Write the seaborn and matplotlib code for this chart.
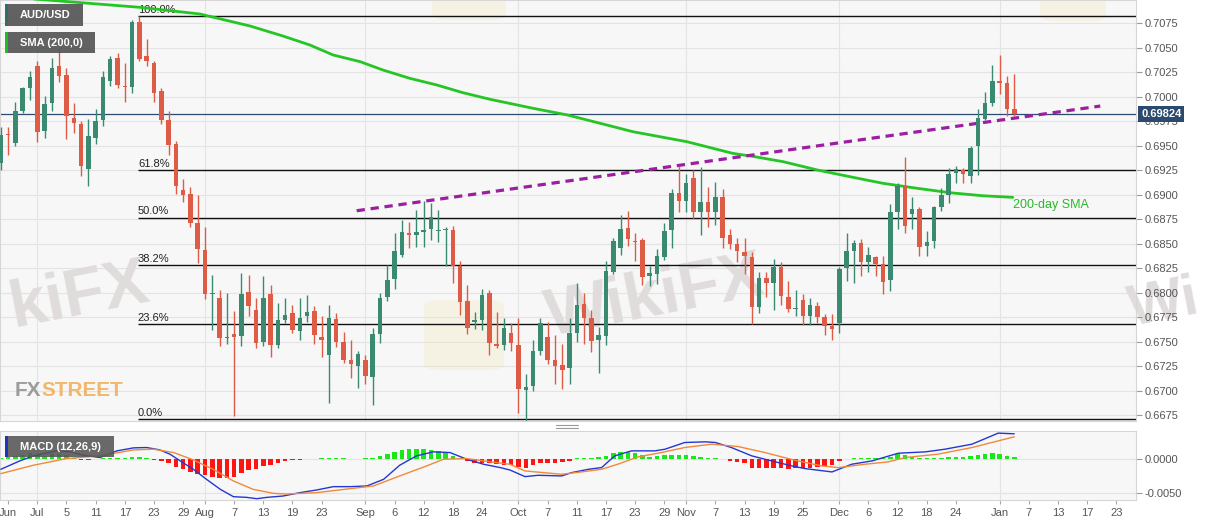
import numpy as np
import pandas as pd
import matplotlib
matplotlib.use("Agg")
import matplotlib.pyplot as plt
import matplotlib.transforms as mtransforms
from matplotlib.patches import Rectangle, FancyBboxPatch
from matplotlib.lines import Line2D
import seaborn as sns

# ---------------- data ----------------
start_date = "2019-06-24"
end_date = "2020-01-03"
axis_end_date = "2020-01-31"

open_ = [0.6932, 0.6962, 0.6953, 0.6985, 0.7009, 0.7031, 0.6965, 0.6994, 0.7031, 0.7022,
         0.6978, 0.6972, 0.6926, 0.6958, 0.6976, 0.7016, 0.7040, 0.7011, 0.7010, 0.7076,
         0.7042, 0.7034, 0.7006, 0.6976, 0.6952, 0.6905, 0.6901, 0.6871, 0.6844, 0.6799,
         0.6794, 0.6754, 0.6758, 0.6756, 0.6801, 0.6782, 0.6750, 0.6799, 0.6747, 0.6772,
         0.6779, 0.6761, 0.6776, 0.6781, 0.6755, 0.6736, 0.6773, 0.6750, 0.6731, 0.6725,
         0.6731, 0.6714, 0.6758, 0.6796, 0.6814, 0.6838, 0.6861, 0.6859, 0.6862, 0.6865,
         0.6863, 0.6864, 0.6864, 0.6827, 0.6791, 0.6770, 0.6772, 0.6800, 0.6748, 0.6747,
         0.6759, 0.6746, 0.6701, 0.6705, 0.6740, 0.6755, 0.6731, 0.6726, 0.6723, 0.6759,
         0.6788, 0.6774, 0.6752, 0.6756, 0.6821, 0.6846, 0.6866, 0.6853, 0.6854, 0.6817,
         0.6819, 0.6836, 0.6864, 0.6902, 0.6894, 0.6917, 0.6882, 0.6893, 0.6882, 0.6898,
         0.6859, 0.6850, 0.6841, 0.6836, 0.6785, 0.6815, 0.6810, 0.6826, 0.6796, 0.6783,
         0.6792, 0.6776, 0.6786, 0.6775, 0.6766, 0.6769, 0.6825, 0.6843, 0.6851, 0.6831,
         0.6836, 0.6829, 0.6813, 0.6882, 0.6909, 0.6880, 0.6885, 0.6848, 0.6853, 0.6887,
         0.6900, 0.6922, 0.6925, 0.6919, 0.6950, 0.6977, 0.6994, 0.7016, 0.7014, 0.6987]
high = [0.6969, 0.6969, 0.6995, 0.7010, 0.7026, 0.7036, 0.7001, 0.7040, 0.7049, 0.7029,
        0.6994, 0.6975, 0.6977, 0.6988, 0.7026, 0.7042, 0.7045, 0.7034, 0.7078, 0.7082,
        0.7059, 0.7037, 0.7009, 0.6985, 0.6955, 0.6916, 0.6908, 0.6900, 0.6867, 0.6818,
        0.6803, 0.6800, 0.6781, 0.6820, 0.6818, 0.6794, 0.6817, 0.6808, 0.6789, 0.6794,
        0.6787, 0.6794, 0.6798, 0.6786, 0.6776, 0.6787, 0.6779, 0.6760, 0.6752, 0.6740,
        0.6736, 0.6764, 0.6800, 0.6828, 0.6861, 0.6874, 0.6872, 0.6884, 0.6894, 0.6891,
        0.6884, 0.6867, 0.6868, 0.6832, 0.6808, 0.6780, 0.6804, 0.6803, 0.6780, 0.6774,
        0.6769, 0.6774, 0.6717, 0.6752, 0.6774, 0.6770, 0.6757, 0.6748, 0.6774, 0.6810,
        0.6800, 0.6782, 0.6765, 0.6832, 0.6856, 0.6879, 0.6883, 0.6861, 0.6856, 0.6827,
        0.6845, 0.6871, 0.6906, 0.6929, 0.6921, 0.6925, 0.6928, 0.6908, 0.6913, 0.6906,
        0.6865, 0.6856, 0.6856, 0.6841, 0.6821, 0.6821, 0.6834, 0.6831, 0.6812, 0.6803,
        0.6799, 0.6794, 0.6790, 0.6778, 0.6778, 0.6826, 0.6861, 0.6854, 0.6855, 0.6847,
        0.6837, 0.6837, 0.6890, 0.6912, 0.6938, 0.6898, 0.6887, 0.6863, 0.6888, 0.6907,
        0.6927, 0.6929, 0.6927, 0.6950, 0.6987, 0.7005, 0.7032, 0.7043, 0.7021, 0.7023]
low = [0.6925, 0.6941, 0.6950, 0.6983, 0.6997, 0.6954, 0.6958, 0.6985, 0.7015, 0.6957,
       0.6963, 0.6919, 0.6909, 0.6952, 0.6970, 0.7011, 0.7009, 0.6995, 0.7004, 0.7037,
       0.7031, 0.6995, 0.6972, 0.6941, 0.6901, 0.6893, 0.6867, 0.6830, 0.6793, 0.6762,
       0.6745, 0.6748, 0.6674, 0.6745, 0.6776, 0.6743, 0.6745, 0.6734, 0.6743, 0.6769,
       0.6759, 0.6752, 0.6770, 0.6748, 0.6734, 0.6687, 0.6744, 0.6728, 0.6713, 0.6703,
       0.6707, 0.6685, 0.6749, 0.6791, 0.6804, 0.6836, 0.6846, 0.6847, 0.6847, 0.6854,
       0.6852, 0.6827, 0.6810, 0.6777, 0.6758, 0.6763, 0.6762, 0.6736, 0.6743, 0.6741,
       0.6740, 0.6677, 0.6669, 0.6700, 0.6736, 0.6727, 0.6707, 0.6702, 0.6707, 0.6750,
       0.6748, 0.6739, 0.6718, 0.6747, 0.6819, 0.6838, 0.6848, 0.6832, 0.6808, 0.6807,
       0.6809, 0.6833, 0.6846, 0.6882, 0.6882, 0.6875, 0.6859, 0.6867, 0.6869, 0.6846,
       0.6845, 0.6831, 0.6819, 0.6768, 0.6779, 0.6796, 0.6782, 0.6787, 0.6780, 0.6776,
       0.6767, 0.6767, 0.6769, 0.6757, 0.6752, 0.6759, 0.6812, 0.6810, 0.6817, 0.6821,
       0.6817, 0.6799, 0.6802, 0.6865, 0.6861, 0.6865, 0.6837, 0.6837, 0.6846, 0.6883,
       0.6891, 0.6912, 0.6912, 0.6912, 0.6920, 0.6976, 0.6991, 0.7003, 0.6980, 0.6980]
close = [0.6961, 0.6961, 0.6985, 0.7009, 0.7020, 0.6964, 0.6993, 0.7029, 0.7021, 0.6980,
         0.6973, 0.6929, 0.6960, 0.6975, 0.7020, 0.7039, 0.7012, 0.7010, 0.7076, 0.7039,
         0.7036, 0.7004, 0.6976, 0.6951, 0.6909, 0.6900, 0.6871, 0.6845, 0.6799, 0.6800,
         0.6754, 0.6755, 0.6755, 0.6799, 0.6786, 0.6749, 0.6795, 0.6746, 0.6772, 0.6777,
         0.6762, 0.6774, 0.6780, 0.6757, 0.6752, 0.6774, 0.6750, 0.6731, 0.6727, 0.6737,
         0.6715, 0.6758, 0.6795, 0.6813, 0.6842, 0.6862, 0.6859, 0.6862, 0.6864, 0.6877,
         0.6864, 0.6865, 0.6827, 0.6790, 0.6764, 0.6772, 0.6798, 0.6749, 0.6745, 0.6764,
         0.6749, 0.6702, 0.6704, 0.6740, 0.6769, 0.6731, 0.6725, 0.6721, 0.6759, 0.6787,
         0.6774, 0.6751, 0.6757, 0.6822, 0.6853, 0.6865, 0.6855, 0.6852, 0.6816, 0.6820,
         0.6837, 0.6863, 0.6902, 0.6894, 0.6912, 0.6882, 0.6893, 0.6882, 0.6898, 0.6856,
         0.6850, 0.6842, 0.6837, 0.6785, 0.6815, 0.6810, 0.6826, 0.6797, 0.6783, 0.6784,
         0.6776, 0.6787, 0.6775, 0.6766, 0.6763, 0.6824, 0.6843, 0.6851, 0.6831, 0.6838,
         0.6829, 0.6811, 0.6882, 0.6909, 0.6868, 0.6885, 0.6847, 0.6852, 0.6887, 0.6900,
         0.6921, 0.6926, 0.6921, 0.6948, 0.6978, 0.6994, 0.7016, 0.7014, 0.6987, 0.69824]

# 200-day SMA, read at sampled bars (bar index, value)
sma_idx = [0, 6.3, 19.1, 27.3, 34.2, 38.7, 42.4, 45.6, 49.3, 52.4, 56.1, 59.8, 63.4, 67.1,
           73, 77.7, 82.2, 86.7, 90.4, 94.1, 97.7, 100.4, 103.4, 107.3, 112, 116.5, 121,
           125.7, 130.2, 134.7, 138.8]
sma_val = [0.71025, 0.70988, 0.70913, 0.70845, 0.70722, 0.7062, 0.70528, 0.70426, 0.70358,
           0.70273, 0.70188, 0.7012, 0.70041, 0.69974, 0.69882, 0.69814, 0.69729, 0.69643,
           0.69592, 0.69541, 0.69473, 0.69422, 0.69388, 0.69337, 0.69252, 0.69183, 0.69116,
           0.69065, 0.6902, 0.68989, 0.68973]

# rising trend line (bar index, price)
trend_idx = [48.8, 150.8]
trend_val = [0.68836, 0.69905]

# Fibonacci retracement
fib_high = 0.70825
fib_low = 0.66706
fib_start_idx = 18.8
fib_ratios = [1.0, 0.618, 0.5, 0.382, 0.236, 0.0]
fib_labels = ["100.0%", "61.8%", "50.0%", "38.2%", "23.6%", "0.0%"]

last_price = 0.69824
last_label = "0.69824"

# MACD (12,26,9): histogram per bar (x1e-4), MACD / signal lines at sampled bars (x1e-4)
hist_e4 = [2.5, 3.5, 5, 7, 9, 6, 5, 7.5, 8, 6,
           2, -1, -1.5, 1, 1.5, 1.5, 2, 2.5, 4, 3,
           1.5, -1, -2.5, -6, -11, -15, -19, -22.5, -24, -26,
           -27.5, -27.5, -26, -20, -16, -14, -10, -9, -6, -2.5,
           -1, -0.5, 1, 1, 1.5, 2, 1.5, 1.5, 1, 1,
           1.5, 2.5, 5, 7.5, 11, 14, 16, 16, 15, 14,
           12.5, 10, 5, 2, -2.5, -5, -5, -6, -7.5, -9,
           -9, -11, -12.5, -9, -5, -5, -5, -4, -2, 2,
           2.5, 2.5, 3.5, 5, 9, 11, 11, 9, 6, 4,
           5, 6, 6.5, 6.5, 7, 5, 3.5, 2, 1.5, 0.3,
           -2.5, -4, -6, -12.5, -12.5, -12.5, -12.5, -12.5, -14, -12.5,
           -12.5, -12.5, -11, -10, -9, -3, 0.8, 1.5, 2, 2,
           2, 1.5, 4, 7.5, 6, 4, 2.5, 2, 2, 2.5,
           3.5, 4, 4, 5, 7, 8, 9, 7.5, 5, 3.5]
macd_idx = [0, 2.6, 4.45, 7.65, 9.5, 11.3, 13.6, 15.9, 18.2, 20, 21.8, 23.2, 24.6, 26.4, 28.2,
            30.1, 31.9, 33.7, 35.1, 36.5, 38.7, 41.0, 43.3, 45.6, 47.9, 50.2, 52.5, 54.7, 57.0,
            59.3, 61.6, 63.9, 66.2, 68.5, 69.8, 71.9, 73.7, 76.9, 78.3, 80.6, 82.4, 84.2, 86.5,
            89.7, 91.1, 93.8, 96.6, 98, 100.2, 103, 105.7, 108.5, 110.3, 114, 116.7, 119.5,
            123.1, 126.8, 129.5, 133.2, 136.8, 139]
macd_e4 = [-15, -2.5, 5, 12.5, 11, 6, 2.5, 12.5, 17, 17.5, 14, 7.5, -2.5, -15, -30,
           -45, -56, -57, -59, -57, -55, -50, -46, -41, -41, -40, -30, -9, 5,
           11, 10, 0, -7.5, -12.5, -16, -26, -24, -25, -20, -15, -12.5, 5, 12.5,
           12.5, 15, 25, 26, 25, 17.5, 5, -2.5, -10, -14, -19, -7.5, -2.5,
           9, 11, 15, 22.5, 39, 38]
sig_idx = [0, 4.45, 9.0, 13.6, 18.2, 20.9, 23.7, 26.4, 29.1, 31.9, 34.6, 37.4, 39.2, 43.3,
           47.9, 51.1, 54.7, 58.4, 60.7, 63.9, 66.2, 69.8, 71.9, 76.9, 79.6, 82.4, 84.6, 87.4,
           90.6, 93.8, 97.5, 101.1, 104.8, 108.9, 112.6, 114.9, 118.5, 121.7, 124, 128.5,
           133.2, 139]
sig_e4 = [-21.5, -9, 1, 5, 14, 15, 10, -1, -15, -32.5, -45, -51, -52, -50,
          -44, -40, -25, -10, 0, 1, -2.5, -7.5, -17.5, -22.5, -19, -15, -7.5, 3.5,
          10, 17.5, 22.5, 19, 10, -1.5, -10, -12.5, -7.5, -4, 2.5, 7.5,
          17.5, 33.5]

tick_dates = ["2019-06-25", "2019-07-01", "2019-07-05", "2019-07-11", "2019-07-17", "2019-07-23",
              "2019-07-29", "2019-08-01", "2019-08-07", "2019-08-13", "2019-08-19", "2019-08-23",
              "2019-09-02", "2019-09-06", "2019-09-12", "2019-09-18", "2019-09-24", "2019-10-01",
              "2019-10-07", "2019-10-11", "2019-10-17", "2019-10-23", "2019-10-29", "2019-11-01",
              "2019-11-07", "2019-11-13", "2019-11-19", "2019-11-25", "2019-12-02", "2019-12-06",
              "2019-12-12", "2019-12-18", "2019-12-24", "2020-01-01", "2020-01-07", "2020-01-13",
              "2020-01-17", "2020-01-23"]
tick_labels = ["Jun", "Jul", "5", "11", "17", "23", "29", "Aug", "7", "13", "19", "23",
               "Sep", "6", "12", "18", "24", "Oct", "7", "11", "17", "23", "29", "Nov",
               "7", "13", "19", "25", "Dec", "6", "12", "18", "24", "Jan", "7", "13", "17", "23"]
month_dates = ["2019-07-01", "2019-08-01", "2019-09-02", "2019-10-01", "2019-11-01",
               "2019-12-02", "2020-01-01"]
price_ticks = [0.6675, 0.6700, 0.6725, 0.6750, 0.6775, 0.6800, 0.6825, 0.6850, 0.6875,
               0.6900, 0.6925, 0.6950, 0.6975, 0.7000, 0.7025, 0.7050, 0.7075]
macd_ticks = [-0.005, 0.0]

# ---------------- styling ----------------
sns.set_theme(style="white")
plt.rcParams["font.family"] = ["Liberation Sans", "DejaVu Sans"]

W, H = 1207, 526
fig = plt.figure(figsize=(W / 100, H / 100), dpi=100)
fig.patch.set_facecolor("white")

ax_right = 1136
main_top, main_bot = 0, 421
macd_top, macd_bot = 431, 499.5
ax = fig.add_axes([0, 1 - main_bot / H, ax_right / W, (main_bot - main_top) / H])
axm = fig.add_axes([0, 1 - macd_bot / H, ax_right / W, (macd_bot - macd_top) / H])

BG = "#f7f7f7"
GRID = "#e4e4e4"
UP = "#3a8a72"
DOWN = "#de5b45"

axis_dates = pd.bdate_range(start_date, axis_end_date)
dates = pd.bdate_range(start_date, end_date)
n = len(dates)
x = np.arange(n)


def pos(d):
    return axis_dates.get_loc(pd.Timestamp(d))


xmin, xmax = -0.12, 155.7
o = np.array(open_)
c = np.array(close)
hi = np.array(high)
lo = np.array(low)

for a in (ax, axm):
    a.set_facecolor(BG)
    a.set_xlim(xmin, xmax)
    for s in a.spines.values():
        s.set_color("#d6d6d6")
        s.set_linewidth(0.8)
    for d in month_dates:
        a.axvline(pos(d), color=GRID, lw=0.8, zorder=0)

# ---- main panel ----
ax.set_ylim(0.66689, 0.70988)
ax.set_yticks(price_ticks)
ax.set_yticklabels([f"{v:.4f}" for v in price_ticks])
ax.yaxis.tick_right()
ax.tick_params(axis="y", right=True, length=4, width=0.8, color="#999999",
               labelsize=8, labelcolor="#555555", pad=2)
ax.set_xticks([])
for v in price_ticks:
    ax.axhline(v, color=GRID, lw=0.8, zorder=0)

# watermarks (behind the marks, inside the price panel)
for (x0, y0, w, h) in [(424, 300, 80, 70), (432, -15, 74, 35), (1040, -15, 66, 36)]:
    p = FancyBboxPatch((x0 / W, 1 - (y0 + h) / H), w / W, h / H,
                       boxstyle="round,pad=0.0,rounding_size=0.012",
                       transform=fig.transFigure, facecolor="#f3dc8c", edgecolor="none",
                       alpha=0.18, zorder=0.4, clip_on=False)
    ax.add_artist(p)
wm = dict(weight="bold", color="#e0dcdc", rotation=11, zorder=0.5,
          transform=fig.transFigure, clip_on=False)
ax.text(4 / W, 1 - 297 / H, "kiFX", ha="left", va="center", fontsize=48, **wm)
ax.text(655 / W, 1 - 298 / H, "WikiFX", ha="center", va="center", fontsize=48, **wm)
ax.text(1124 / W, 1 - 305 / H, "Wi", ha="left", va="center", fontsize=42, **wm)

# Fibonacci levels
fib_rng = fib_high - fib_low
for r, lab in zip(fib_ratios, fib_labels):
    lvl = fib_low + r * fib_rng
    ax.hlines(lvl, fib_start_idx, xmax, color="#111111", lw=1.0, zorder=2)
    ax.text(fib_start_idx, lvl + 0.00012, lab, fontsize=8, color="#222222",
            ha="left", va="bottom", zorder=2)

# current price line
ax.axhline(last_price, color="#2d4b6e", lw=0.9, zorder=2)

# SMA 200
sns.lineplot(x=sma_idx, y=sma_val, ax=ax, color="#26c526", linewidth=2.0, zorder=3)
ax.text(138.8, 0.68894, "200-day SMA", color="#2ab82a", fontsize=9, ha="left",
        va="center", zorder=6)

# trend line
ax.plot(trend_idx, trend_val, color="#9b1fa0", lw=2.3, ls=(0, (2.6, 1.8)), zorder=4)

# candles
colors = np.where(c >= o, UP, DOWN)
ax.vlines(x, lo, hi, colors=colors, lw=1.0, zorder=5)
body = np.maximum(np.abs(c - o), 0.00005)
ax.bar(x, body, bottom=np.minimum(o, c), width=0.62, color=colors, linewidth=0, zorder=5)

# last price label
trans = mtransforms.blended_transform_factory(ax.transAxes, ax.transData)
ax.text(1 + 5 / ax_right, last_price, last_label, transform=trans, ha="left", va="center",
        fontsize=8, weight="bold", color="white", zorder=10, clip_on=False,
        bbox=dict(boxstyle="square,pad=0.28", fc="#2b4a6e", ec="none"))

# ---- MACD panel ----
hist = np.array(hist_e4) * 1e-4
axm.set_ylim(-0.00602, 0.00422)
for v in macd_ticks:
    axm.axhline(v, color=GRID, lw=0.8, zorder=0)
hcol = np.where(hist >= 0, "#18e818", "#ff1414")
axm.bar(x, hist, width=0.62, color=hcol, linewidth=0, zorder=2)
sns.lineplot(x=macd_idx, y=np.array(macd_e4) * 1e-4, ax=axm, color="#2437d0",
             linewidth=1.0, zorder=3)
sns.lineplot(x=sig_idx, y=np.array(sig_e4) * 1e-4, ax=axm, color="#f2893a",
             linewidth=1.0, zorder=3)
axm.set_yticks(macd_ticks)
axm.set_yticklabels([f"{v:.4f}" for v in macd_ticks])
axm.yaxis.tick_right()
axm.tick_params(axis="y", right=True, length=4, width=0.8, color="#999999",
                labelsize=8, labelcolor="#555555", pad=2)
axm.set_xticks([pos(d) for d in tick_dates])
axm.set_xticklabels(tick_labels)
axm.tick_params(axis="x", bottom=True, length=3, width=0.8, color="#aaaaaa",
                labelsize=8, labelcolor="#555555", pad=3)
axm.set_xlabel("")
axm.set_ylabel("")
ax.set_xlabel("")
ax.set_ylabel("")


# ---- overlays in figure pixels ----
def px_rect(x0, y0, w, h, color, alpha=1.0, z=5):
    r = Rectangle((x0 / W, 1 - (y0 + h) / H), w / W, h / H, transform=fig.transFigure,
                  facecolor=color, edgecolor="none", alpha=alpha, zorder=z)
    fig.add_artist(r)


def px_text(px, py, s, **kw):
    return fig.text(px / W, 1 - py / H, s, **kw)


# FXSTREET logo: fit "FX"+"STREET" into the reference width
renderer = fig.canvas.get_renderer()
logo_fam = ["Liberation Sans Narrow", "Liberation Sans", "DejaVu Sans"]
logo_left, logo_width = 15, 108
probe = px_text(0, 0, "FXSTREET", fontsize=20, weight="bold", family=logo_fam)
pw = probe.get_window_extent(renderer).width
probe.remove()
logo_fs = 20 * logo_width / pw
logo = dict(fontsize=logo_fs, weight="bold", va="center", ha="left", alpha=0.85,
            family=logo_fam, zorder=1)
t_fx = px_text(logo_left, 390, "FX", color="#8c8c8c", **logo)
fx_w = t_fx.get_window_extent(renderer).width
px_text(logo_left + fx_w, 390, "STREET", color="#f0ad55", **logo)

# legend boxes
px_rect(5, 4, 78, 22, "#555555", 0.92)
px_rect(5, 4, 2.5, 22, "#2f6f66", 1.0, 6)
px_text(45, 15.5, "AUD/USD", color="white", fontsize=8, weight="bold",
        ha="center", va="center", zorder=7)
px_rect(5, 32, 90, 21, "#555555", 0.92)
px_rect(5, 32, 2.5, 21, "#22bb22", 1.0, 6)
px_text(51, 43, "SMA (200,0)", color="white", fontsize=8, weight="bold",
        ha="center", va="center", zorder=7)
px_rect(5, 436, 109, 21, "#555555", 0.88)
px_rect(5, 436, 2.5, 21, "#2233bb", 1.0, 6)
px_text(60, 447, "MACD (12,26,9)", color="white", fontsize=8, weight="bold",
        ha="center", va="center", zorder=7)

# panel resize handle
for yy in (425.0, 427.5):
    fig.add_artist(Line2D([556 / W, 578 / W], [1 - yy / H, 1 - yy / H],
                          transform=fig.transFigure, color="#999999", lw=0.8, zorder=5))

fig.savefig("out.png", dpi=100, facecolor="white")
